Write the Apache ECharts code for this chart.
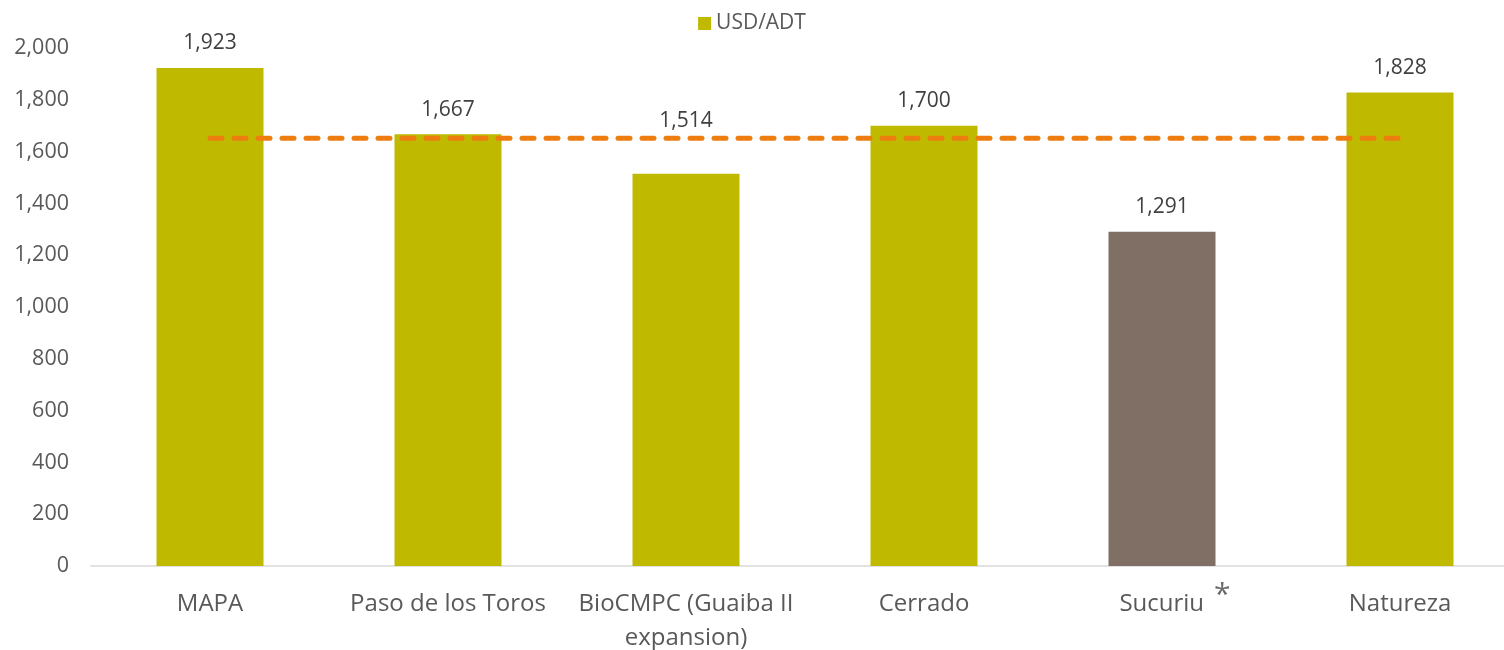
<!DOCTYPE html>
<html>
<head>
<meta charset="utf-8">
<script src="https://cdn.jsdelivr.net/npm/echarts@6/dist/echarts.min.js"></script>
<style>
  html, body { margin: 0; padding: 0; background: #fff; }
  #main { width: 1504px; height: 650px; }
</style>
</head>
<body>
<div id="main"></div>
<script>
// 数据
const categories = ['MAPA', 'Paso de los Toros', 'BioCMPC (Guaiba II\nexpansion)', 'Cerrado', 'Sucuriu', 'Natureza'];
const usdAdt = [1923, 1667, 1514, 1700, 1291, 1828];
const averageLine = [1652, 1652, 1652, 1652, 1652, 1652];
const highlightName = 'Sucuriu';
const raisedLabelName = 'BioCMPC (Guaiba II\nexpansion)';

const font = '"Open Sans", "Noto Sans", sans-serif';
const chart = echarts.init(document.getElementById('main'));

const option = {
  animation: false,
  textStyle: { fontFamily: font },
  legend: {
    data: ['USD/ADT'],
    top: 8,
    left: 'center',
    icon: 'rect',
    itemWidth: 13,
    itemHeight: 13,
    itemGap: 6,
    textStyle: { fontSize: 21, color: '#595959', fontFamily: font }
  },
  grid: {
    left: 91,
    top: 48,
    bottom: 84,
    width: 1428,
    outerBoundsMode: 'none',
    containLabel: false
  },
  xAxis: {
    type: 'category',
    data: categories,
    axisTick: { show: false },
    axisLine: { lineStyle: { color: '#d9d9d9', width: 1.5 } },
    axisLabel: {
      interval: 0,
      margin: 21,
      fontSize: 24,
      color: '#595959',
      lineHeight: 34,
      fontFamily: font,
      formatter: function (v) {
        // 星号标注
        if (v === highlightName) return '{pad|}' + v + '{s|*}';
        return v;
      },
      rich: {
        pad: { width: 26 },
        s: { fontSize: 30, color: '#6b6b6b', padding: [0, 0, 18, 10], fontFamily: font }
      }
    }
  },
  yAxis: {
    type: 'value',
    min: 0,
    max: 2000,
    interval: 200,
    axisLine: { show: false },
    axisTick: { show: false },
    splitLine: { show: false },
    axisLabel: {
      fontSize: 21.5,
      color: '#595959',
      margin: 22,
      fontFamily: font,
      formatter: function (v) { return v.toLocaleString('en-US'); }
    }
  },
  series: [
    {
      name: 'USD/ADT',
      type: 'bar',
      barWidth: 107,
      itemStyle: { color: '#bfba00' },
      data: usdAdt.map(function (v, i) {
        const item = { value: v };
        if (categories[i] === highlightName) {
          item.itemStyle = { color: '#7f6f64' };
        }
        if (categories[i] === raisedLabelName) {
          // 标签上移，避开虚线
          item.label = { distance: 42 };
        }
        return item;
      }),
      label: {
        show: true,
        position: 'top',
        distance: 14,
        fontSize: 21,
        color: '#404040',
        fontFamily: font,
        formatter: function (p) { return p.value.toLocaleString('en-US'); }
      }
    },
    {
      name: 'Average',
      type: 'line',
      data: averageLine,
      symbol: 'none',
      silent: true,
      z: 3,
      lineStyle: {
        color: '#ee7d10',
        width: 5,
        type: [12, 12],
        cap: 'round'
      }
    }
  ]
};

chart.setOption(option);
</script>
</body>
</html>
